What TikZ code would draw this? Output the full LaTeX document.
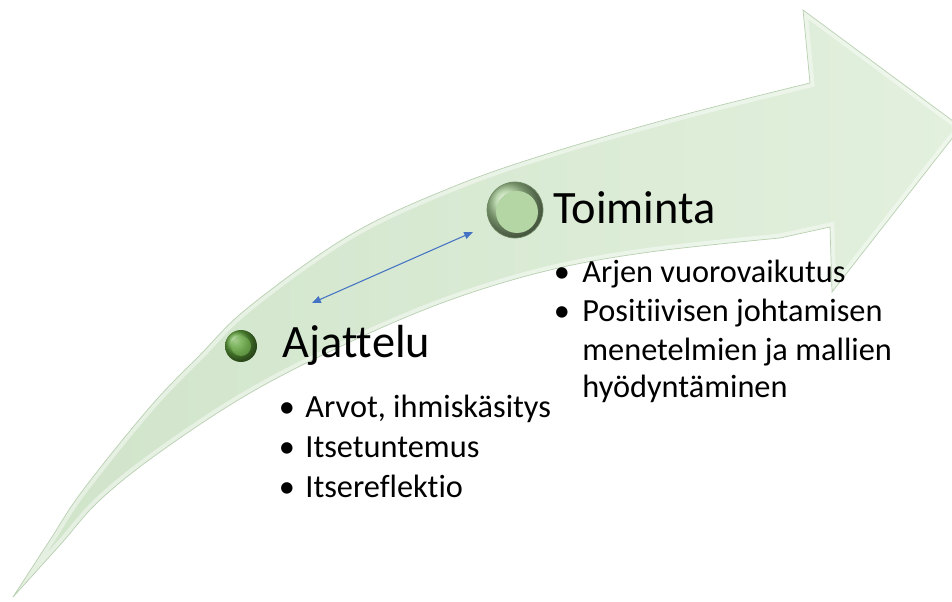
\documentclass[tikz,border=0pt]{standalone}
\usepackage{fontspec}
\setmainfont{Carlito}[Ligatures={NoCommon,NoRequired,NoContextual}]
\usetikzlibrary{arrows.meta}
\definecolor{bandL}{HTML}{D0E4CA}
\definecolor{bandR}{HTML}{E2F0DD}
\definecolor{bandEdge}{HTML}{B9D0B2}
\definecolor{linkblue}{HTML}{4472C4}
\definecolor{ballDark}{HTML}{62A63C}
\definecolor{ballLight}{HTML}{A6CC95}
\definecolor{ballInner}{HTML}{B4D5A4}
\definecolor{ballRim}{HTML}{6E8A63}
\newcommand\ArrowOutline{plot[smooth,tension=0.6] coordinates {(13,597) (50,540) (83,490) (150,407) (200,355) (250,306) (350,235) (450,188) (550,153) (683,115) (810,83)} -- (803,10) -- (961,127) -- (832,292) -- (830,227) -- plot[smooth,tension=0.6] coordinates {(780,238) (650,252) (550,270) (450,300) (350,342) (250,393) (160,452) (100,500) (60,545) (13,597)} -- cycle}
\begin{document}
\begin{tikzpicture}[x=0.02cm,y=-0.02cm,
  head/.style={anchor=base west, inner sep=0pt, font=\fontsize{26.4pt}{30pt}\selectfont},
  item/.style={anchor=base west, inner sep=0pt, font=\fontsize{18.4pt}{22pt}\selectfont},
  dot/.style={anchor=base, inner sep=0pt, font=\fontsize{18.4pt}{22pt}\selectfont},
  link/.style={linkblue, line width=0.6pt, {Triangle[length=5pt,width=4pt]}-{Triangle[length=5pt,width=4pt]}}]
\useasboundingbox (0,0) rectangle (952,601);
% the curved arrow
\shade[left color=bandL, right color=bandR] \ArrowOutline;
\begin{scope}
  \clip \ArrowOutline;
  \draw[white, opacity=0.45, line width=5pt] \ArrowOutline;
\end{scope}
\draw[bandEdge, line width=0.4pt] \ArrowOutline;
% balls
\node[circle, minimum size=0.64cm, inner sep=0pt, shading=ball, ball color=ballDark] (b1) at (241,346) {};
\node[circle, minimum size=0.4cm, inner sep=0pt, fill=ballDark!85!white, opacity=0.6] (b1in) at (241,346) {};
\node[circle, minimum size=1.12cm, inner sep=0pt, shading=ball, ball color=ballLight, draw=ballRim, line width=0.4pt] (b2) at (515,210) {};
\node[circle, minimum size=0.84cm, inner sep=0pt, fill=ballInner] (b2in) at (517,212) {};
% headings
\node[head] (ajattelu) at (282,357) {Ajattelu};
\node[head] (toiminta) at (553,223) {Toiminta};
% link arrow
\coordinate (la) at (312,303);
\coordinate (lb) at (473,232);
\draw[link] (la) -- (lb);
% left bullets
\node[dot] (d1) at (287,417) {•};
\node[item] (t1) at (305,417) {Arvot, ihmiskäsitys};
\node[dot] (d2) at (287,457) {•};
\node[item] (t2) at (305,457) {Itsetuntemus};
\node[dot] (d3) at (287,497) {•};
\node[item] (t3) at (305,497) {Itsereflektio};
% right bullets
\node[dot] (d4) at (562,282) {•};
\node[item] (t4) at (582,282) {Arjen vuorovaikutus};
\node[dot] (d5) at (562,321) {•};
\node[item] (t5) at (582,321) {Positiivisen johtamisen};
\node[item] (t6) at (582,360) {menetelmien ja mallien};
\node[item] (t7) at (582,397) {hyödyntäminen};
\end{tikzpicture}
\end{document}
